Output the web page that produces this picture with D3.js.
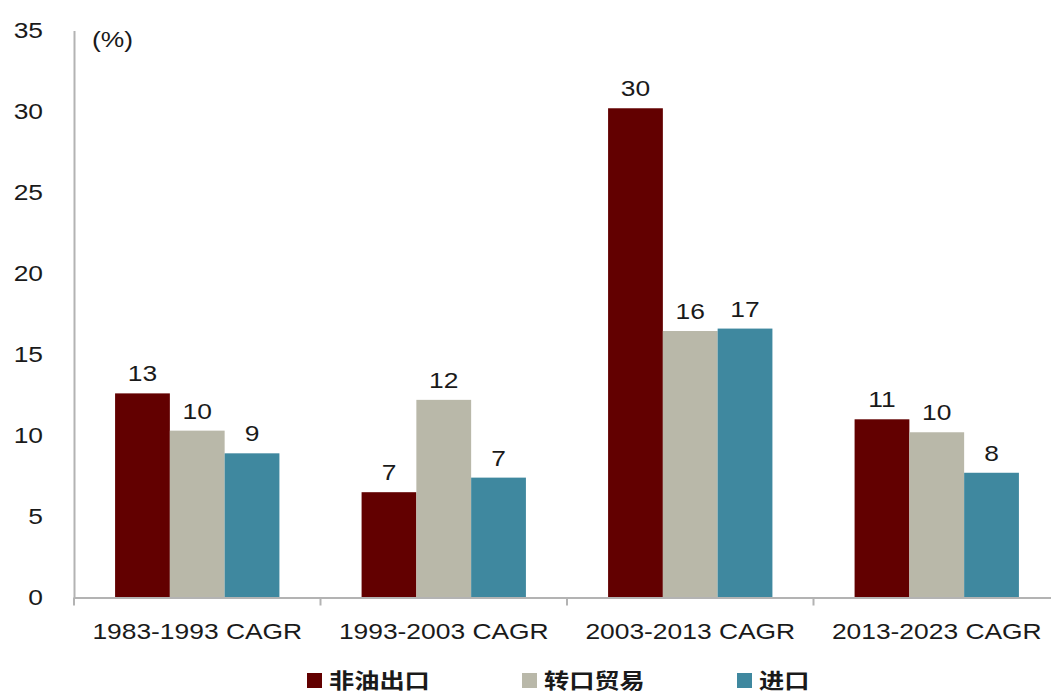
<!DOCTYPE html>
<meta charset="utf-8">
<title>CAGR</title>
<style type="text/css">
  body { margin: 0; background: #fff; }
  text { font-family: Arial, "Liberation Sans", sans-serif; fill: #1a1a1a; }
  .cjk { font-family: "Noto Sans CJK SC", sans-serif; }
</style>
<body>
<script src="https://cdn.jsdelivr.net/npm/d3@7"></script>
<script>

// data
var periods = ["1983-1993 CAGR", "1993-2003 CAGR", "2003-2013 CAGR", "2013-2023 CAGR"];
var seriesNames = ["非油出口", "转口贸易", "进口"];
var nonOilExport = [12.6, 6.5, 30.2, 11.0];
var reExport = [10.3, 12.2, 16.45, 10.2];
var imports = [8.9, 7.4, 16.6, 7.7];
var yTicks = [0, 5, 10, 15, 20, 25, 30, 35];

var colors = ["#620000", "#b9b8a9", "#3f889f"];
var sx = 1.2; // the source image is stretched sideways

var width = 1051, height = 695;
var plotLeft = 74, plotRight = 1060, plotTop = 30.5, plotBottom = 597.5;

var svg = d3.select("body")
            .append("svg")
            .attr("width", width)
            .attr("height", height);

var x0 = d3.scaleBand().domain(periods).range([plotLeft, plotRight]).padding(0);
var x1 = d3.scaleBand().domain(seriesNames).range([0, x0.bandwidth()])
           .paddingInner(0).paddingOuter(0.75);
var y = d3.scaleLinear().domain([0, 35]).range([plotBottom, plotTop]);

var rows = periods.map(function(p, i) {
  return { period: p, values: [nonOilExport[i], reExport[i], imports[i]] };
});

function stretched(sel, px, py) {
  return sel.attr("transform", "translate(" + px + "," + py + ") scale(" + sx + ",1)");
}

// bars
var groups = svg.selectAll("g.grp")
  .data(rows)
  .enter()
  .append("g")
  .attr("class", "grp")
  .attr("transform", function(d) { return "translate(" + x0(d.period) + ",0)"; });

groups.selectAll("rect")
  .data(function(d) { return d.values.map(function(v, j) { return { name: seriesNames[j], v: v, j: j }; }); })
  .enter()
  .append("rect")
  .attr("x", function(d) { return x1(d.name); })
  .attr("width", x1.bandwidth())
  .attr("y", function(d) { return y(d.v); })
  .attr("height", function(d) { return y(0) - y(d.v); })
  .attr("fill", function(d) { return colors[d.j]; });

// value labels
groups.selectAll("text.val")
  .data(function(d) { return d.values.map(function(v, j) { return { name: seriesNames[j], v: v }; }); })
  .enter()
  .append("text")
  .attr("class", "val")
  .style("font-size", "22px")
  .style("text-anchor", "middle")
  .each(function(d) {
    stretched(d3.select(this), x1(d.name) + x1.bandwidth() / 2, y(d.v) - 12);
  })
  .text(function(d) { return Math.round(d.v); });

// y axis
var yAxis = svg.append("g")
  .attr("transform", "translate(" + plotLeft + ",0)")
  .call(d3.axisLeft(y).tickValues(yTicks).tickSize(0).tickFormat(""));
yAxis.select(".domain").attr("stroke", "#b3b3b3").attr("stroke-width", 2);

svg.selectAll("text.ytick")
  .data(yTicks)
  .enter()
  .append("text")
  .attr("class", "ytick")
  .style("font-size", "22px")
  .style("text-anchor", "end")
  .attr("dy", "0.35em")
  .each(function(d) { stretched(d3.select(this), 43, y(d)); })
  .text(function(d) { return d; });

stretched(svg.append("text"), 92, 47)
  .style("font-size", "22px")
  .text("(%)");

// x axis
var xAxis = svg.append("g")
  .attr("transform", "translate(0," + plotBottom + ")")
  .call(d3.axisBottom(x0).tickSize(0).tickFormat(""));
xAxis.select(".domain").attr("stroke", "#b3b3b3").attr("stroke-width", 2);

var bounds = periods.map(function(p) { return x0(p); });
svg.selectAll("line.xtick")
  .data(bounds)
  .enter()
  .append("line")
  .attr("class", "xtick")
  .attr("x1", function(d) { return d; })
  .attr("x2", function(d) { return d; })
  .attr("y1", plotBottom)
  .attr("y2", plotBottom + 8)
  .attr("stroke", "#b3b3b3")
  .attr("stroke-width", 2);

svg.selectAll("text.xlab")
  .data(periods)
  .enter()
  .append("text")
  .attr("class", "xlab")
  .style("font-size", "22px")
  .style("text-anchor", "middle")
  .each(function(d) { stretched(d3.select(this), x0(d) + x0.bandwidth() / 2, 639); })
  .text(function(d) { return d; });

// legend
var legendX = [307, 522, 737];
var legend = svg.selectAll("g.leg")
  .data(seriesNames)
  .enter()
  .append("g")
  .attr("class", "leg")
  .attr("transform", function(d, i) { return "translate(" + legendX[i] + ",673)"; });

legend.append("rect")
  .attr("width", 15)
  .attr("height", 15)
  .attr("fill", function(d, i) { return colors[i]; });

legend.append("text")
  .attr("class", "cjk")
  .style("font-size", "21px")
  .style("font-weight", "bold")
  .attr("dy", "0.35em")
  .each(function() { stretched(d3.select(this), 22, 7.5); })
  .text(function(d) { return d; });

</script>
</body>
